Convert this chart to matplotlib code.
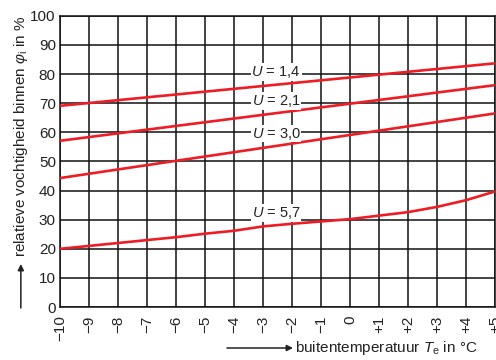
import matplotlib.pyplot as plt

plt.rcParams['font.family'] = ['Liberation Sans', 'DejaVu Sans']
plt.rcParams['mathtext.fontset'] = 'custom'
plt.rcParams['mathtext.rm'] = 'Liberation Sans'
plt.rcParams['mathtext.it'] = 'Liberation Sans:italic'

# buitentemperatuur (°C)
temps = list(range(-10, 6))
tick_labels = ['\u221210', '\u22129', '\u22128', '\u22127', '\u22126', '\u22125', '\u22124',
               '\u22123', '\u22122', '\u22121', '0', '+1', '+2', '+3', '+4', '+5']

# straight lines: values at -10 and +5
ends = [-10, 5]
phi_u14 = [69.1, 83.7]
phi_u21 = [57.1, 76.2]
phi_u30 = [44.3, 66.5]
# curved line, read at every degree
phi_u57 = [20.0, 21.0, 22.0, 23.0, 24.0, 25.2, 26.2, 27.7, 28.6, 29.4,
           30.2, 31.4, 32.6, 34.4, 36.7, 39.7]

labels = ['1,4', '2,1', '3,0', '5,7']
label_y = [80.7, 70.8, 59.6, 32.2]

fig = plt.figure(figsize=(4.96, 3.6), dpi=100)
ax = fig.add_axes([0.121, 0.147, 0.877, 0.809])

red = '#ee1c25'
lw = 1.9
ax.plot(ends, phi_u14, color=red, lw=lw, zorder=3)
ax.plot(ends, phi_u21, color=red, lw=lw, zorder=3)
ax.plot(ends, phi_u30, color=red, lw=lw, zorder=3)
ax.plot(temps, phi_u57, color=red, lw=lw, zorder=3)

for lab, y in zip(labels, label_y):
    ax.text(-2.55, y, '$U$ = ' + lab, ha='center', va='center', fontsize=10.5,
            color='#222222', zorder=4,
            bbox=dict(facecolor='white', edgecolor='none', pad=0.6))

ax.set_xlim(-10, 5)
ax.set_ylim(0, 100)
ax.set_xticks(temps)
ax.set_xticklabels(tick_labels, rotation=90)
ax.set_yticks(range(0, 101, 10))
ax.tick_params(length=0, labelsize=11, colors='#222222', pad=3)
ax.tick_params(axis='x', pad=6)
ax.grid(True, color='#111111', lw=1.1, zorder=1)
ax.set_axisbelow(True)
for s in ax.spines.values():
    s.set_color('#111111')
    s.set_linewidth(1.1)

# y-as label with arrow
fig.text(0.042, 0.622, 'relatieve vochtigheid binnen $\\varphi_\\mathrm{i}$ in %',
         rotation=90, ha='center', va='center', fontsize=11, color='#222222')
fig.add_artist(plt.Annotation('', xy=(0.042, 1 - 264 / 360), xytext=(0.042, 1 - 308 / 360),
                              xycoords='figure fraction',
                              arrowprops=dict(arrowstyle='-|>', color='#222222', lw=1.1,
                                              mutation_scale=9, shrinkA=0, shrinkB=0)))

# x-as label with arrow
fig.text(295 / 496, 1 - 348 / 360, 'buitentemperatuur $T_\\mathrm{e}$ in °C',
         ha='left', va='center', fontsize=11, color='#222222')
fig.add_artist(plt.Annotation('', xy=(293 / 496, 1 - 348 / 360), xytext=(227 / 496, 1 - 348 / 360),
                              xycoords='figure fraction',
                              arrowprops=dict(arrowstyle='-|>', color='#222222', lw=1.1,
                                              mutation_scale=9, shrinkA=0, shrinkB=0)))

fig.savefig('out.png', dpi=100)
